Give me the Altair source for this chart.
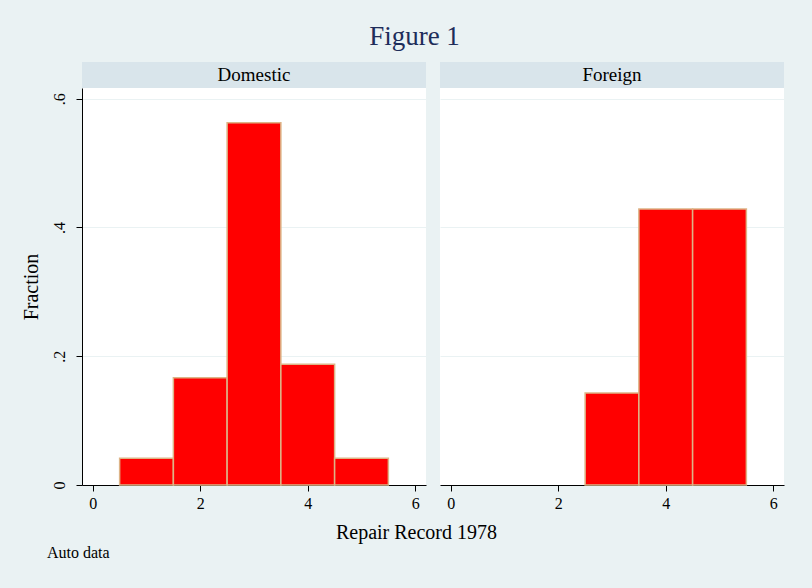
import altair as alt
import pandas as pd

# ---- data ----
panels = ["Domestic", "Foreign"]
rep_domestic = [1, 2, 3, 4, 5]
frac_domestic = [0.0417, 0.1667, 0.5625, 0.1875, 0.0417]
rep_foreign = [3, 4, 5]
frac_foreign = [0.1429, 0.4286, 0.4286]
x_ticks = [0, 2, 4, 6]
y_ticks = [0, 0.2, 0.4, 0.6]
title_text = "Figure 1"
x_title = "Repair Record 1978"
y_title = "Fraction"
note_text = "Auto data"

# ---- style ----
W, H = 344, 397
FONT = "Liberation Serif"
BG = "#EAF2F3"
STRIP = "#D9E5EB"
GRID = "#EAF2F3"
BAR = "#FF0000"
EDGE = "#DDB487"

xs = alt.Scale(domain=[-0.2, 6.2], nice=False, zero=False)
ys = alt.Scale(domain=[0, 0.6165], nice=False)


def panel(name, reps, fracs, left):
    df = pd.DataFrame({"rep": reps, "fraction": fracs})
    if left:
        yaxis = alt.Axis(values=y_ticks, title=y_title, labelAngle=270,
                         labelExpr="datum.value == 0 ? '0' : replace(format(datum.value, '.1f'), '0.', '.')",
                         labelFontSize=16, titleFontSize=20, titlePadding=10,
                         tickSize=6, labelPadding=9, grid=True, gridColor=GRID,
                         domainColor="black", tickColor="black", labelColor="black",
                         titleColor="black", titleFontWeight="normal", labelFont=FONT, titleFont=FONT)
        xaxis = alt.Axis(values=x_ticks, title=x_title, titleX=334, titleY=47,
                         titleBaseline="middle",
                         labelFontSize=16, titleFontSize=20, tickSize=6, labelPadding=4,
                         grid=False, domainColor="black", tickColor="black",
                         labelColor="black", titleColor="black", titleFontWeight="normal",
                         labelFont=FONT, titleFont=FONT)
    else:
        yaxis = alt.Axis(values=y_ticks, title=None, labels=False, ticks=False,
                         domain=False, grid=True, gridColor=GRID)
        xaxis = alt.Axis(values=x_ticks, title=None,
                         labelFontSize=16, tickSize=6, labelPadding=4,
                         grid=False, domainColor="black", tickColor="black",
                         labelColor="black", labelFont=FONT)

    bars = alt.Chart(df).transform_calculate(
        lo="datum.rep - 0.5", hi="datum.rep + 0.5"
    ).mark_bar(color=BAR, stroke=EDGE, strokeWidth=1.5).encode(
        x=alt.X("lo:Q", scale=xs, axis=xaxis),
        x2="hi:Q",
        y=alt.Y("fraction:Q", scale=ys, axis=yaxis),
        y2=alt.datum(0),
    )

    sdf = pd.DataFrame({"panel": [name]})
    strip = alt.Chart(sdf).mark_rect(fill=STRIP).encode(
        x=alt.value(0), x2=alt.value(W), y=alt.value(-26), y2=alt.value(0)
    )
    lab = alt.Chart(sdf).mark_text(font=FONT, fontSize=19, baseline="middle",
                                   color="black").encode(
        x=alt.value(W / 2), y=alt.value(-13), text="panel:N"
    )
    layers = [strip, lab, bars]
    if left:
        ndf = pd.DataFrame({"note": [note_text]})
        note = alt.Chart(ndf).mark_text(font=FONT, fontSize=16, align="left",
                                        baseline="middle", color="black").encode(
            x=alt.value(-35), y=alt.value(465), text="note:N"
        )
        layers.append(note)
    return alt.layer(*layers).properties(width=W, height=H)


left = panel(panels[0], rep_domestic, frac_domestic, True)
right = panel(panels[1], rep_foreign, frac_foreign, False)

chart = alt.hconcat(left, right, spacing=14, bounds="flush").properties(
    title=alt.TitleParams(title_text, font=FONT, fontSize=27, fontWeight="normal",
                          color="#1E2D5A", anchor="middle", dx=12, offset=11),
    background=BG,
    padding={"left": 21, "top": 23, "right": 28, "bottom": 27},
).configure_view(stroke=None, fill="white")

chart.save("out.html", embed_options={"renderer": "svg", "actions": False})
